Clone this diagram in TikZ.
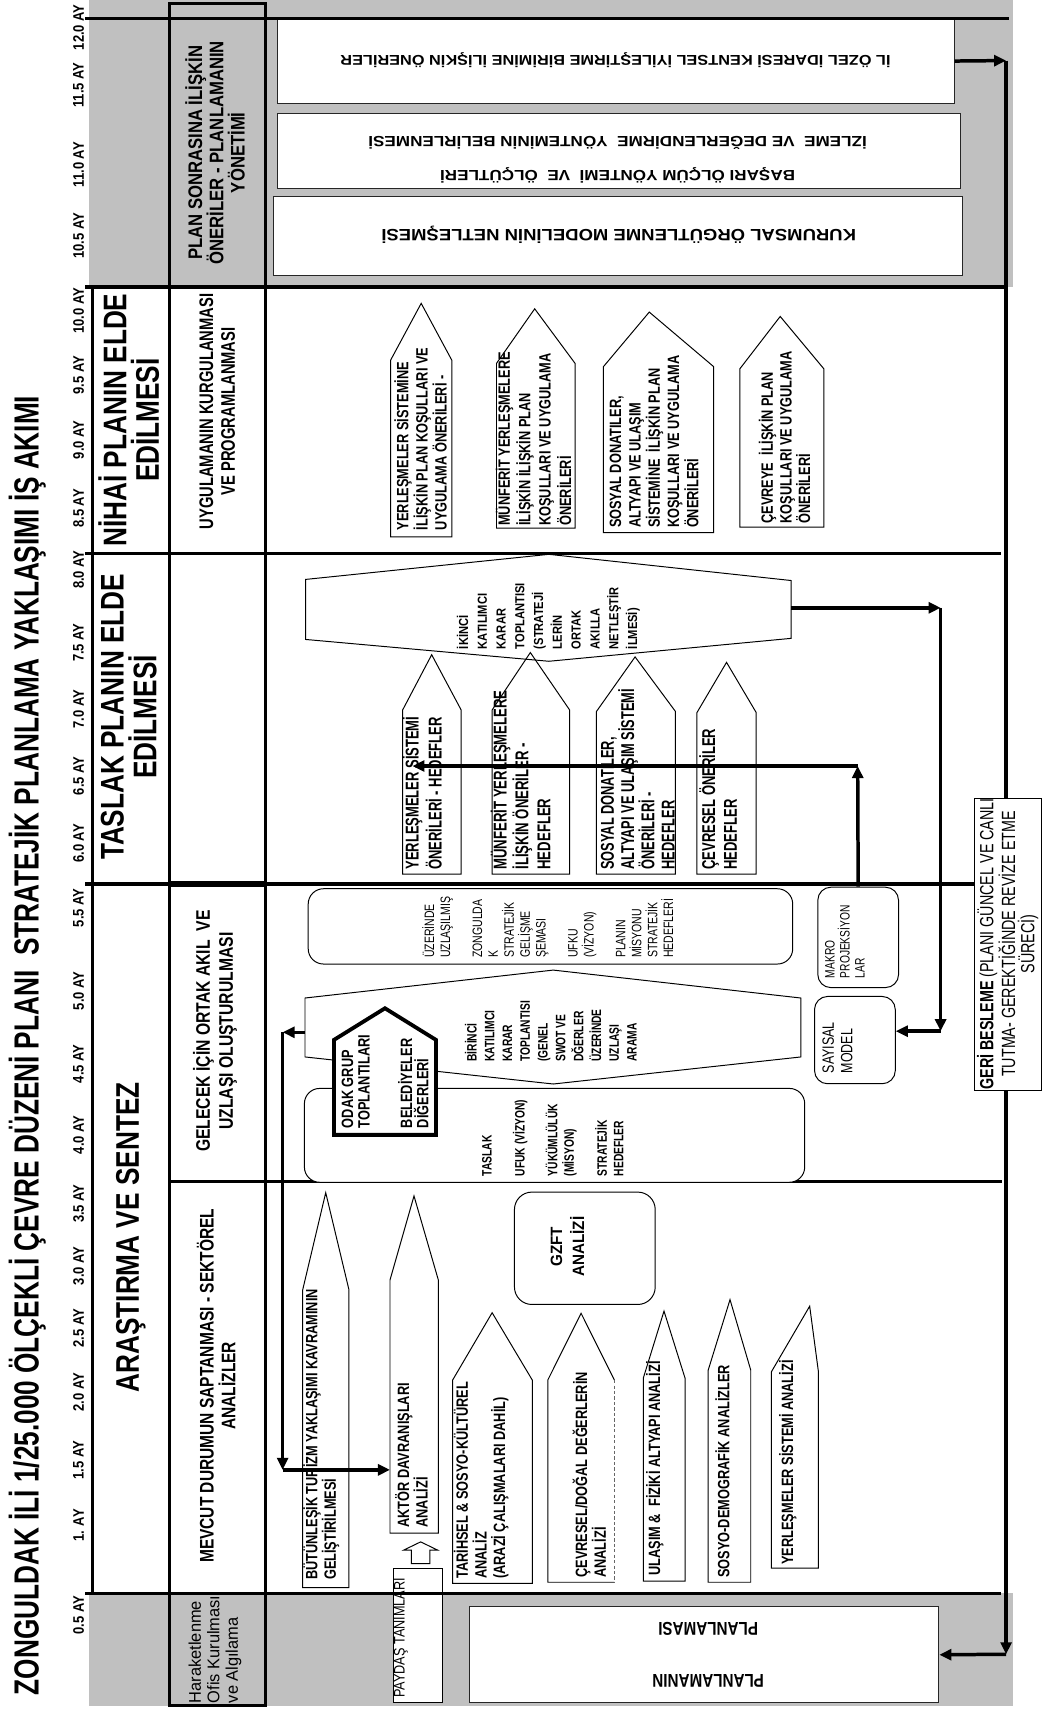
\documentclass[tikz,border=0pt]{standalone}
\usepackage{fontspec}
\setmainfont{Liberation Sans}
\usetikzlibrary{arrows.meta}
\definecolor{band}{RGB}{192,192,192}
\newcommand\fsz[2]{\fontsize{#1}{#2}\selectfont}
% pentagon pointing up: [opts]{xl}{xr}{tipx}{tipy}{shoulder}{bottom}
\newcommand\pent[7][]{\draw[shp,#1] (#2,#7) -- (#2,#6) -- (#4,#5) -- (#3,#6) -- (#3,#7) -- cycle;}
\begin{document}
\begin{tikzpicture}[x=1pt,y=-1pt,
  frame/.style={line width=3pt},
  shp/.style={draw=black, line width=0.9pt, line join=miter},
  wbox/.style={draw=black!85, line width=0.9pt, fill=white, inner sep=0pt, anchor=north west},
  rbox/.style={draw=black, line width=0.9pt, fill=white, inner sep=0pt, anchor=north west, rounded corners=14pt},
  vt/.style={rotate=90, inner sep=0pt, align=left, anchor=west},
  vc/.style={rotate=90, inner sep=0pt, align=center},
  ht/.style={rotate=180, inner sep=0pt, align=center},
  arr/.style={line width=3.2pt, -{Triangle[length=11pt,width=10pt]}},
  pt15/.style={font=\fsz{15}{17}\bfseries, xscale=0.78},
]
\useasboundingbox (0,0) rectangle (954,1568);
\fill[white] (0,0) rectangle (954,1568);
% gray bands
\fill[band] (82,0) rectangle (928,263);
\fill[band] (82,1460) rectangle (928,1563);

% white boxes in bands
\node[wbox, minimum width=620pt, minimum height=77pt] (b1) at (254,17) {};
\node[wbox, minimum width=626pt, minimum height=68pt] (b2) at (254,104) {};
\node[wbox, minimum width=632pt, minimum height=72pt] (b3) at (250,180) {};
\node[wbox, minimum width=430pt, minimum height=88pt] (plan) at (430,1472) {};
\node[wbox, draw=black, minimum width=45.5pt, minimum height=122.5pt] (payd) at (360,1437) {};

% frame lines
\draw[frame] (78,17) -- (925,17);
\draw[frame] (78,263) -- (922,263);
\draw[frame] (78,507) -- (917,507);
\draw[frame] (78,810) -- (893,810);
\draw[frame] (155,1083) -- (918,1083);
\draw[frame] (78,1460) -- (917,1460);
\draw[frame] (85,263) -- (85,1460);
\draw[frame] (155,3) rectangle (243,1563);
\draw[line width=5pt] (155,810) -- (243,810);

% feedback loop
\coordinate (fbT) at (922,55.5);
\coordinate (fbB) at (922,1516);
\draw[arr] (b1.east) -- (fbT);
\draw[arr] (fbT) -- (fbB);
\draw[arr] (fbB) -- (plan.east);

% GERI BESLEME box
\node[wbox, draw=black, minimum width=61pt, minimum height=268pt] (geri) at (893,731) {};
\node[vc, xscale=0.75, font=\fsz{17.5}{17.7}] (gerit) at (923.5,865) {\textbf{GERİ BESLEME} (PLANI GÜNCEL VE CANLI\\TUTMA- GEREKTİĞİNDE REVİZE ETME\\SÜRECİ)};

% ---------- NIHAI pentagons
\pent{358}{414}{386}{278}{330}{492}
\pent{455}{527}{490}{283}{333}{484}
\pent{553}{654}{595}{286}{336}{488}
\pent{678}{755}{715}{290}{338}{483}

% ---------- TASLAK
\draw[shp] (503,508) -- (725,532) -- (725,585) -- (503,606) -- (280,586) -- (280,531) -- cycle;
\coordinate (hexIe) at (725,557);
\pent{369}{422.6}{395.6}{600}{650.6}{801}
\pent{451}{522}{486}{598}{650.6}{801}
\pent{546.6}{619}{582}{602}{652}{801}
\pent{638.7}{693}{665.8}{607}{653}{801}

% ---------- GELECEK
\node[rbox, minimum width=444pt, minimum height=69pt] (boxA) at (282,814) {};
\node[rbox, minimum width=458.5pt, minimum height=86pt] (boxC) at (278.5,997) {};
\draw[shp, fill=white] (507,889) -- (734,914.6) -- (734,968.6) -- (507,993.4) -- (279.5,968.6) -- (279.5,914.6) -- cycle;
\coordinate (hexBw) at (279.5,946);
\draw[line width=3.5pt, fill=white, line join=miter] (306,1040) -- (306,953) -- (352.8,924) -- (399.6,953) -- (399.6,1040) -- cycle;
\node[rbox, rounded corners=12pt, minimum width=74pt, minimum height=92pt] (makro) at (749,812.6) {};
\node[rbox, rounded corners=12pt, minimum width=74pt, minimum height=80pt] (sayi) at (746,912.7) {};

% ---------- MEVCUT
\pent{277.4}{319.8}{298.5}{1093}{1182}{1455}
\pent{357.4}{401.7}{379.4}{1096}{1173}{1405}
\pent{414.8}{487.8}{451}{1203}{1264.7}{1451}
\draw[shp] (563,1450) -- (502,1450) -- (502,1264.7) -- (532.5,1203.5) -- (563,1264.7);
\draw[line width=0.9pt, densely dashed, draw=black!60] (563,1264.7) -- (563,1450);
\pent{589.5}{627.8}{608.5}{1201.5}{1263}{1449}
\pent{649}{688}{669}{1191}{1255.6}{1450}
\pent{707}{750}{742}{1197}{1257}{1437}
\node[rbox, rounded corners=16pt, minimum width=129pt, minimum height=103pt] (gzft) at (471,1092) {};
% hollow block arrow
\draw[line width=0.9pt, fill=white, line join=miter] (377,1433) -- (377,1420.5) -- (370,1420.5) -- (385.5,1413) -- (401,1420.5) -- (394,1420.5) -- (394,1433) -- cycle;
\draw[frame] (355,1460) -- (410,1460);

% ---------- texts
\node[vc, xscale=0.75, font=\fsz{32}{36}\bfseries] (title) at (25,958) {ZONGULDAK İLİ 1/25.000 ÖLÇEKLİ ÇEVRE DÜZENİ PLANI\ \ STRATEJİK PLANLAMA YAKLAŞIMI İŞ AKIMI};
\foreach \y/\t in {25/12.0 AY,78/11.5 AY,151/11.0 AY,216/10.5 AY,285/10.0 AY,344/9.5 AY,403/9.0 AY,466/8.5 AY,522/8.0 AY,589/7.5 AY,650/7.0 AY,711/6.5 AY,773/6.0 AY,832/5.5 AY,908/5.0 AY,975/4.5 AY,1040/4.0 AY,1103/3.5 AY,1160/3.0 AY,1217/2.5 AY,1276/2.0 AY,1338/1.5 AY,1398/1. AY,1480/0.5 AY}
  \node[vc, xscale=0.85, font=\fsz{14}{16}\bfseries] (m\y) at (72,\y) {\t};

\node[vc, xscale=0.8, font=\fsz{30}{30}\bfseries] (ph1) at (118,385) {NİHAİ PLANIN ELDE\\EDİLMESİ};
\node[vc, xscale=0.8, font=\fsz{30}{30}\bfseries] (ph2) at (118,657) {TASLAK PLANIN ELDE\\EDİLMESİ};
\node[vc, xscale=0.8, font=\fsz{30}{30}\bfseries] (ph3) at (120,1134) {ARAŞTIRMA VE SENTEZ};

\node[vc, xscale=0.85, font=\fsz{18}{19.5}\bfseries] (sh1) at (197,140) {PLAN SONRASINA İLİŞKİN\\ÖNERİLER - PLANLAMANIN\\YÖNETİMİ};
\node[vc, xscale=0.75, font=\fsz{18}{20}\bfseries] (sh2) at (199,377) {UYGULAMANIN KURGULANMASI\\VE PROGRAMLANMASI};
\node[vc, xscale=0.8, font=\fsz{18}{21}\bfseries] (sh3) at (197,945) {GELECEK İÇİN ORTAK AKIL\ \ VE\\UZLAŞI OLUŞTURULMASI};
\node[vc, xscale=0.79, font=\fsz{18}{20}\bfseries] (sh4) at (198,1270) {MEVCUT DURUMUN SAPTANMASI - SEKTÖREL\\ANALİZLER};
\node[vt, xscale=0.97, font=\fsz{15.5}{17}] (sh5) at (197,1561) {Haraketlenme\\Ofis Kurulması\\ve Algılama};

\node[ht, xscale=1.15, font=\fsz{13}{15}\bfseries] (t1) at (564,55) {İL ÖZEL İDARESİ KENTSEL İYİLEŞTİRME BİRİMİNE İLİŞKİN ÖNERİLER};
\node[ht, xscale=1.16, font=\fsz{13.5}{31}\bfseries] (t2) at (566,146.5) {BAŞARI ÖLÇÜM YÖNTEMİ\ \ VE\ \ ÖLÇÜTLERİ\\İZLEME\ \ VE DEĞERLENDİRME\ \ YÖNTEMİNİN BELİRLENMESİ};
\node[ht, xscale=1.13, font=\fsz{15}{17}\bfseries] (t3) at (567,215) {KURUMSAL ÖRGÜTLENME MODELİNİN NETLEŞMESİ};
\node[ht, xscale=0.82, font=\fsz{17}{47}\bfseries] (t4) at (649,1516.5) {PLANLAMANIN\\PLANLAMASI};

% NIHAI texts
\node[vt, xscale=0.78, font=\fsz{15}{17.5}\bfseries] (p1t) at (385.5,486) {YERLEŞMELER SİSTEMİNE\\İLİŞKİN PLAN KOŞULLARI VE\\UYGULAMA ÖNERİLERİ -};
\node[vt, xscale=0.78, font=\fsz{15}{18.7}\bfseries] (p2t) at (489,482) {MÜNFERİT YERLEŞMELERE\\İLİŞKİN İLİŞKİN PLAN\\KOŞULLARI VE UYGULAMA\\ÖNERİLERİ};
\node[vt, xscale=0.78, font=\fsz{15}{17.7}\bfseries] (p3t) at (599.5,484) {SOSYAL DONATILER,\\ALTYAPI VE ULAŞIM\\SİSTEMİNE\ \ İLİŞKİN PLAN\\KOŞULLARI VE UYGULAMA\\ÖNERİLERİ};
\node[vt, xscale=0.78, font=\fsz{15}{17}\bfseries] (p4t) at (719,480) {ÇEVREYE\ \ İLİŞKİN PLAN\\KOŞULLARI VE UYGULAMA\\ÖNERİLERİ};

% TASLAK texts
\node[vt, xscale=0.7, font=\fsz{17}{21}\bfseries] (q1t) at (387,797) {YERLEŞMELER SİSTEMİ\\ÖNERİLERİ - HEDEFLER};
\node[vt, xscale=0.71, font=\fsz{17}{20}\bfseries] (q2t) at (477,797) {MÜNFERİT YERLEŞMELERE\\İLİŞKİN ÖNERİLER -\\HEDEFLER};
\node[vt, xscale=0.69, font=\fsz{17}{18.6}\bfseries] (q3t) at (584.5,797) {SOSYAL DONATILER,\\ALTYAPI VE ULAŞIM SİSTEMİ\\ÖNERİLERİ -\\HEDEFLER};
\node[vt, xscale=0.7, font=\fsz{17}{20}\bfseries] (q4t) at (658,797) {ÇEVRESEL ÖNERİLER\\HEDEFLER};
\node[vt, xscale=0.85, font=\fsz{12}{17.2}\bfseries] (hexIt) at (502.5,595) {İKİNCİ\\KATILIMCI\\KARAR\\TOPLANTISI\\(STRATEJİ\\LERİN\\ORTAK\\AKILLA\\NETLEŞTİR\\İLMESİ)};

% GELECEK texts
\node[vt, xscale=0.77, font=\fsz{12.5}{14.6}] (boxAt) at (502,878) {ÜZERİNDE\\UZLAŞILMIŞ\\[14.6pt]ZONGULDA\\K\\STRATEJİK\\GELİŞME\\ŞEMASI\\[14.6pt]UFKU\\(VİZYON)\\[14.6pt]PLANIN\\MİSYONU\\STRATEJİK\\HEDEFLERİ};
\node[vt, xscale=0.75, font=\fsz{12.5}{16.3}\bfseries] (hexBt) at (504.7,973) {BİRİNCİ\\KATILIMCI\\KARAR\\TOPLANTISI\\(GENEL\\SWOT VE\\DĞERLER\\ÜZERİNDE\\UZLAŞI\\ARAMA};
\node[vt, xscale=0.78, font=\fsz{15}{15}\bfseries] (odakt) at (353,1034) {ODAK GRUP\\TOPLANTILARI\\[24pt]BELEDİYELER\\DİĞERLERİ};
\node[vt, xscale=0.75, font=\fsz{12.5}{15.1}\bfseries] (boxCt) at (506.5,1078) {TASLAK\\[15.1pt]UFUK (VİZYON)\\[15.1pt]YÜKÜMLÜLÜK\\(MİSYON)\\[15.1pt]STRATEJİK\\HEDEFLER};
\node[vt, xscale=0.75, font=\fsz{12.5}{13.7}] (makrot) at (774.3,896.5) {MAKRO\\PROJEKSİYON\\LAR};
\node[vt, xscale=0.76, font=\fsz{15}{17}] (sayit) at (767.5,983.5) {SAYISAL\\MODEL};

% MEVCUT texts
\node[vt, pt15] (r1t) at (294.5,1448) {BÜTÜNLEŞİK TURİZM YAKLAŞIMI KAVRAMININ\\GELİŞTİRİLMESİ};
\node[vt, pt15] (r2t) at (377,1400) {AKTÖR DAVRANIŞLARI\\ANALİZİ};
\node[vt, pt15] (r3t) at (441,1447) {TARİHSEL \& SOSYO-KÜLTÜREL\\ANALİZ\\(ARAZİ ÇALIŞMALARI DAHİL)};
\node[vt, pt15] (r4t) at (540,1446) {ÇEVRESEL/DOĞAL DEĞERLERİN\\ANALİZİ};
\node[vt, pt15] (r5t) at (600,1444) {ULAŞIM \&\ \ FİZİKİ ALTYAPI ANALİZİ};
\node[vt, pt15] (r6t) at (662,1446) {SOSYO-DEMOGRAFİK ANALİZLER};
\node[vt, pt15] (r7t) at (722,1434) {YERLEŞMELER SİSTEMİ ANALİZİ};
\node[vc, xscale=0.93, font=\fsz{15}{20}\bfseries] (gzftt) at (520,1142.5) {GZFT\\ANALİZİ};
\node[vt, xscale=0.83, font=\fsz{14}{16}] (paydt) at (367.5,1556) {PAYDAŞ TANIMLARI};

% ---------- arrows
\coordinate (c1) at (862,557);
\coordinate (c2) at (862,945);
\draw[arr] (hexIe) -- (c1);
\draw[arr] (c1) -- (c2);
\draw[arr] (c2) -- (sayi.east |- c2);

\coordinate (c3) at (786,702);
\coordinate (q1in) at (378,702);
\draw[arr] (makro.north) -- (c3);
\draw[arr] (c3) -- (q1in);

\coordinate (c4) at (259,946);
\coordinate (c5) at (259,1347);
\draw[arr] (hexBw) -- (c4);
\draw[arr] (c4) -- (c5);
\draw[arr] (c5) -- (357.4,1347) coordinate (r2w);
\end{tikzpicture}
\end{document}
